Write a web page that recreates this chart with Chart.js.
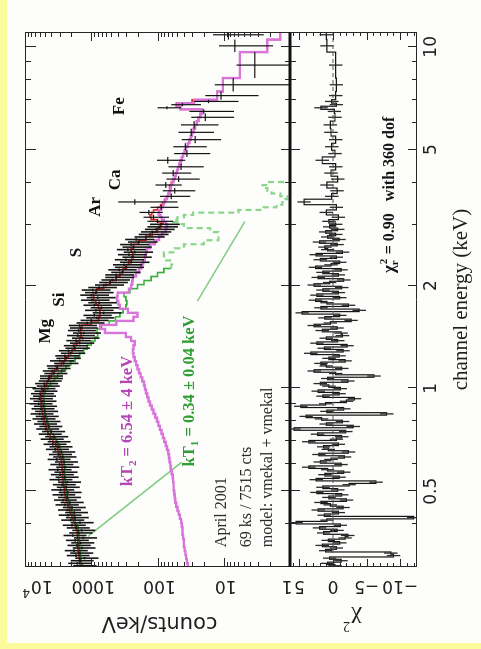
<!DOCTYPE html>
<html>
<head>
<meta charset="utf-8">
<title>X-ray spectrum, two-temperature fit</title>
<script src="https://cdn.jsdelivr.net/npm/chart.js@4.4.1/dist/chart.umd.min.js"></script>
<style>
  html, body { margin:0; padding:0; width:481px; height:649px; overflow:hidden; background:#fbfb9c; }
  /* the figure is laid out landscape and turned a quarter turn */
  #figure { position:absolute; left:0; top:0; width:649px; height:481px; transform-origin:0 0; transform:translate(0px,649px) rotate(-90deg); }
  #paper { position:absolute; left:6px; top:7px; width:643px; height:474px; background:#fdfdfb; }
  #figure canvas { position:absolute; left:0; top:0; }
</style>
</head>
<body>
<div id="figure">
  <div id="paper"></div>
  <canvas id="spec" width="649" height="481"></canvas>
  <canvas id="resid" width="649" height="481"></canvas>
</div>
<script>
// grouped data channels (keV boundaries)
const dataEdges = [
  0.300, 0.305, 0.310, 0.316, 0.321, 0.327, 0.332, 0.338, 0.344, 0.350,
  0.356, 0.362, 0.368, 0.374, 0.381, 0.387, 0.394, 0.401, 0.408, 0.415,
  0.422, 0.429, 0.437, 0.444, 0.452, 0.460, 0.467, 0.475, 0.484, 0.492,
  0.500, 0.509, 0.518, 0.527, 0.536, 0.545, 0.554, 0.564, 0.573, 0.583,
  0.593, 0.604, 0.614, 0.625, 0.635, 0.646, 0.657, 0.669, 0.680, 0.692,
  0.704, 0.716, 0.728, 0.741, 0.754, 0.767, 0.780, 0.793, 0.807, 0.821,
  0.835, 0.849, 0.864, 0.879, 0.894, 0.909, 0.925, 0.941, 0.957, 0.973,
  0.990, 1.007, 1.024, 1.042, 1.060, 1.078, 1.096, 1.115, 1.134, 1.154,
  1.173, 1.194, 1.214, 1.235, 1.256, 1.278, 1.300, 1.322, 1.345, 1.368,
  1.391, 1.415, 1.440, 1.464, 1.490, 1.515, 1.541, 1.568, 1.595, 1.622,
  1.650, 1.678, 1.707, 1.737, 1.766, 1.797, 1.828, 1.859, 1.891, 1.924,
  1.957, 1.990, 2.025, 2.059, 2.095, 2.131, 2.167, 2.205, 2.243, 2.281,
  2.320, 2.360, 2.401, 2.442, 2.484, 2.527, 2.570, 2.614, 2.659, 2.705,
  2.752, 2.799, 2.847, 2.896, 2.946, 2.997, 3.048,
  3.12, 3.22, 3.33, 3.45, 3.58, 3.72, 3.86, 4.02, 4.18, 4.36,
  4.55, 4.76, 4.98, 5.22, 5.48, 5.76, 6.06, 6.38, 6.56, 6.70,
  6.84, 7.00, 7.40, 8.10, 9.65, 10.50, 11.20
];

// observed rate per channel (counts/keV)
const observedCounts = [
  1350, 1620, 1480, 1260, 1700, 1500, 1820, 1380, 1650, 1450,
  1750, 1320, 1900, 1550, 1400, 1700, 1950, 1480, 2050, 1750,
  2250, 1800, 2300, 1950, 2500, 2100, 2650, 2300, 2800, 2250,
  2900, 2400, 2750, 2300, 3100, 2500, 2950, 2600, 3200, 2450,
  3000, 2550, 3300, 2700, 3150, 2800, 3500, 3100, 3800, 3300,
  4200, 3600, 4500, 4000, 4900, 4400, 5300, 4700, 5600, 5000,
  6000, 5100, 5800, 5300, 6200, 5400, 6100, 5500, 5900, 5200,
  5600, 4800, 5100, 4500, 4300, 4300, 3700, 3900, 3300, 3400,
  2600, 3000, 2400, 2500, 2050, 2200, 1750, 1850, 1500, 1700,
  1350, 1600, 1300, 1550, 1450, 1500, 1150, 1000, 820, 900,
  650, 850, 700, 900, 760, 980, 800, 1000, 850, 950,
  760, 600, 520, 480, 420, 420, 340, 380, 300, 320,
  250, 300, 230, 270, 220, 280, 230, 250, 190, 210,
  150, 130, 120, 105, 95, 88,
  100, 115, 135, 88, 220, 62, 55, 75, 48, 58,
  44, 70, 36, 38, 27, 31, 28, 19, 20, 72,
  42, 17, 11, 7.2, 3.4, 6.8, 8.5
];

// 1-sigma uncertainty per channel
const observedErrors = [
  520, 610, 560, 480, 640, 570, 690, 520, 630, 550,
  660, 500, 720, 590, 530, 650, 740, 560, 780, 660,
  850, 680, 870, 740, 950, 800, 1000, 870, 1060, 850,
  1100, 910, 1040, 870, 1180, 950, 1120, 990, 1220, 930,
  1140, 970, 1250, 1030, 1200, 1060, 1330, 1180, 1440, 1250,
  1600, 1370, 1710, 1520, 1860, 1670, 2010, 1790, 2130, 1900,
  2280, 1940, 2200, 2010, 2360, 2050, 2320, 2090, 2240, 1980,
  2130, 1820, 1940, 1710, 1630, 1630, 1410, 1480, 1250, 1290,
  1040, 1200, 960, 1000, 820, 880, 700, 740, 600, 680,
  600, 720, 590, 700, 650, 680, 520, 450, 370, 410,
  300, 390, 320, 410, 350, 450, 370, 460, 390, 440,
  350, 280, 240, 220, 195, 195, 160, 175, 140, 150,
  118, 140, 108, 125, 103, 130, 108, 117, 90, 98,
  72, 62, 58, 50, 46, 42,
  42, 48, 52, 40, 170, 30, 28, 32, 25, 27,
  24, 32, 20, 20, 16, 17, 16, 12, 13, 28,
  20, 11, 8, 6.5, 3.0, 5, 6
];

// (data - model) / sigma per channel
const chiResiduals = [
  -0.3, 0.8, -1.2, 0.5, -9.0, -8.6, 1.1, -0.5, 1.6, -1.0,
  0.7, -1.8, -2.2, 1.4, -0.6, 2.0, -1.1, 5.5, 0.9, -12.0,
  1.3, -0.8, 2.2, -1.5, 0.4, 1.8, -2.0, 0.6, -1.3, 2.4,
  -0.7, 1.5, -2.4, -6.4, 2.5, -0.9, 1.2, -1.6, 0.8, 3.6,
  -1.2, 1.9, 0.3, -1.7, 2.1, -2.3, 0.7, 1.4, -0.8, 3.6,
  -0.5, -1.3, 2.3, -1.9, 5.8, -3.0, 1.0, -1.4, 1.7, 4.0,
  -8.0, 0.9, -1.6, 4.8, 1.1, -2.0, -3.2, 1.5, -0.9, 2.2,
  -1.1, 0.6, 1.9, -2.2, 0.8, -6.1, -0.4, 2.8, -1.3, 1.0,
  1.8, -1.8, 0.6, -0.9, 3.3, -1.5, 1.3, -2.1, 2.4, -0.7,
  1.0, -1.4, -1.2, 1.6, -0.6, 2.8, 0.4, -2.7, 1.2, -1.0,
  4.6, -3.9, 1.8, -2.3, 0.9, 2.6, -1.0, 2.4, -0.8, 1.5,
  -1.3, 2.8, 0.5, -1.6, 2.2, -0.8, 1.5, -1.2, 2.6, 0.3,
  -1.0, 1.9, -0.5, 2.5, -1.4, 0.8, 1.2, -0.6, 2.0, -0.9,
  0.8, -0.4, 1.1, -0.7, 0.5, -0.4,
  0.6, -0.8, 1.0, -0.5, 4.3, 0.2, -0.6, 0.9, -0.7, 0.3,
  -0.4, 1.6, -0.3, 0.2, -0.4, 0.3, 0.4, -0.3, -0.2, 1.8,
  -0.5, 0.2, -0.4, -0.5, -0.4, 0.9, 1.0
];

// model grid (keV boundaries)
const modelEdges = [
  0.300, 0.308, 0.317, 0.325, 0.334, 0.343, 0.353, 0.362, 0.372, 0.383,
  0.393, 0.404, 0.415, 0.427, 0.438, 0.450, 0.463, 0.476, 0.489, 0.502,
  0.516, 0.531, 0.545, 0.560, 0.576, 0.592, 0.608, 0.625, 0.642, 0.660,
  0.678, 0.697, 0.716, 0.736, 0.756, 0.777, 0.799, 0.821, 0.843, 0.867,
  0.891, 0.915, 0.941, 0.967, 0.993, 1.020,
  1.048, 1.077, 1.107, 1.137, 1.169, 1.201, 1.234, 1.268, 1.303, 1.339,
  1.376, 1.414, 1.453, 1.493, 1.534, 1.576, 1.620, 1.664, 1.710, 1.757,
  1.806, 1.855, 1.907, 1.959, 2.013, 2.069, 2.126, 2.184, 2.244, 2.306,
  2.370, 2.435, 2.502, 2.571, 2.642, 2.715, 2.790, 2.867, 2.946, 3.027,
  3.07, 3.12, 3.17, 3.22, 3.27, 3.33, 3.39, 3.45, 3.51, 3.58,
  3.65, 3.72, 3.79, 3.86, 3.94, 4.02, 4.10, 4.18, 4.27, 4.36,
  4.45, 4.55, 4.65, 4.76, 4.87, 4.98, 5.10, 5.22, 5.35, 5.48,
  5.62, 5.76, 5.91, 6.06, 6.22, 6.38, 6.56, 6.70, 6.84, 7.00,
  7.40, 8.10, 9.65, 10.50, 11.20
];

// folded model: vmekal + vmekal
const totalModel = [
  1480, 1500, 1520, 1550, 1580, 1590, 1600, 1610, 1630, 1650,
  1750, 1850, 1950, 2080, 2150, 2250, 2350, 2470, 2520, 2560,
  2620, 2670, 2700, 2720, 2750, 2770, 2820, 2950, 3100, 3250,
  3450, 3800, 4150, 4500, 4750, 4950, 5150, 5350, 5500, 5600,
  5700, 5750, 5800, 5500, 5100,
  4700, 4400, 4000, 3600, 3200, 2800, 2500, 2200, 1950, 1780,
  1650, 1500, 1420, 1450, 1380, 1000, 770, 740, 740, 780,
  850, 920, 930, 830, 650, 520, 420, 370, 330, 295,
  270, 245, 235, 250, 230, 195, 150, 120, 100, 90,
  82, 100, 125, 130, 122, 115, 100, 90, 84, 78,
  73, 69, 66, 64, 66, 62, 58, 55, 53, 51,
  49, 47, 45, 43, 41, 39, 37, 35, 33, 31.5,
  30, 28.5, 27, 25.5, 24, 22.5, 21, 45, 52, 30,
  12.6, 10.3, 5.7, 2.2, 1.4
];

// cool component, kT1 = 0.34 keV
const softModel = [
  1400, 1420, 1440, 1470, 1500, 1510, 1520, 1530, 1550, 1570,
  1650, 1740, 1830, 1950, 2020, 2110, 2200, 2300, 2350, 2390,
  2440, 2480, 2510, 2530, 2550, 2570, 2600, 2700, 2830, 2960,
  3130, 3430, 3750, 4080, 4300, 4480, 4660, 4840, 4970, 5050,
  5130, 5160, 5180, 4900, 4500,
  4100, 3600, 3200, 2800, 2400, 2050, 1750, 1500, 1300, 1150,
  1000, 880, 800, 820, 700, 540, 430, 370, 330, 300,
  290, 300, 320, 260, 200, 160, 125, 100, 80, 62,
  60, 75, 80, 55, 40, 20, 12, 12, 16, 40,
  50, 58, 50, 40, 29, 6, 2.5, 1.6, 1.3, 1.2,
  1.1, 1.4, 1.9, 2.2, 2.6, 2.3, 1.1, null, null, null,
  null, null, null, null, null, null, null, null, null, null,
  null, null, null, null, null, null, null, null, null, null,
  null, null, null, null, null
];

// hot component, kT2 = 6.54 keV
const hardModel = [
  35, 36, 37, 38, 39, 40, 40, 41, 42, 42,
  43, 44, 46, 48, 50, 52, 54, 55, 56, 57,
  57, 58, 59, 61, 63, 64, 66, 67, 69, 72,
  75, 79, 83, 87, 92, 97, 102, 108, 115, 122,
  130, 137, 143, 149, 155,
  160, 170, 180, 190, 200, 210, 220, 230, 235, 230,
  220, 250, 300, 620, 740, 420, 230, 200, 280, 370,
  390, 410, 400, 270, 250, 240, 235, 210, 190, 175,
  165, 155, 150, 145, 130, 110, 95, 85, 75, 72,
  74, 80, 86, 90, 96, 94, 88, 84, 80, 76,
  72, 69, 66, 64, 63, 60, 57, 55, 53, 51,
  49, 47, 45, 43, 41, 39, 37, 35, 33, 31.5,
  30, 28.5, 27, 25.5, 24, 22.5, 21, 45, 50, 28,
  12.6, 10.3, 5.7, 2.2, 1.4
];

// axis ticks and labels
const energyMajor = [0.5, 1, 2, 5, 10];
const energyMajorLabels = ['0.5', '1', '2', '5', '10'];
const energyMinor = [0.3, 0.4, 0.6, 0.7, 0.8, 0.9, 3, 4, 6, 7, 8, 9];
const countDecades = [1, 10, 100, 1000, 10000];
const countLabels = ['1', '10', '100', '1000', '10'];
const chiMajor = [5, 0, -5, -10];
const chiLabels = ['5', '0', '\u22125', '\u221210'];

// emission-line identifications (label, energy keV, counts/keV)
const lineIds = [
  ['Mg', 1.47, 4820], ['Si', 1.82, 2960], ['S', 2.50, 1640],
  ['Ar', 3.40, 848], ['Ca', 4.08, 423], ['Fe', 6.70, 370]
];

// pointer strokes from the kT1 caption to the cool component
const pointerA = [[0.608, 43], [0.369, 1120]];
const pointerB = [[3.08, 4.8], [1.80, 25]];

// ---------------------------------------------------------------------------
const E_MIN = 0.3, E_MAX = 11.05;
const SERIF = '"Liberation Serif", "Times New Roman", serif';
const SANS = '"DejaVu Sans", sans-serif';
const DENSE_CHANNELS = 136;   // channels below ~3 keV, drawn a little heavier

function stepPoints(edges, values) {
  const pts = values.map((v, i) => ({ x: edges[i], y: v }));
  pts.push({ x: edges[values.length], y: values[values.length - 1] });
  return pts;
}

function errorCrossPoints() {
  const pts = [];
  observedCounts.forEach((c, i) => {
    const lo = dataEdges[i], hi = dataEdges[i + 1];
    const mid = Math.sqrt(lo * hi);
    const e = observedErrors[i];
    pts.push({ x: lo, y: c }, { x: hi, y: c }, { x: hi, y: null });
    pts.push({ x: mid, y: Math.max(c - e, 0.3) }, { x: mid, y: c + e }, { x: mid, y: null });
  });
  return pts;
}

function residualBarPoints() {
  const pts = [];
  chiResiduals.forEach((r, i) => {
    const mid = Math.sqrt(dataEdges[i] * dataEdges[i + 1]);
    pts.push({ x: mid, y: r - 1 }, { x: mid, y: r + 1 }, { x: mid, y: null });
  });
  return pts;
}

function vText(ctx, txt, x, y) {
  ctx.save();
  ctx.translate(x, y);
  ctx.rotate(-Math.PI / 2);
  ctx.fillText(txt, 0, 0);
  ctx.restore();
}

function line(ctx, x1, y1, x2, y2) {
  ctx.beginPath(); ctx.moveTo(x1, y1); ctx.lineTo(x2, y2); ctx.stroke();
}

function energyTicks(ctx, xs, yTop, yBot, downLen, upLen) {
  energyMajor.forEach(e => {
    const px = Math.round(xs.getPixelForValue(e)) + 0.5;
    if (downLen) line(ctx, px, yTop, px, yTop + downLen);
    if (upLen) line(ctx, px, yBot, px, yBot - upLen);
  });
  energyMinor.forEach(e => {
    const px = Math.round(xs.getPixelForValue(e)) + 0.5;
    if (downLen) line(ctx, px, yTop, px, yTop + downLen * 0.55);
    if (upLen) line(ctx, px, yBot, px, yBot - upLen * 0.55);
  });
}

// subscripted "kT" caption
function kTCaption(ctx, sub, rest, x, y, size) {
  ctx.font = 'bold ' + size + 'px ' + SERIF;
  ctx.textAlign = 'left';
  ctx.textBaseline = 'middle';
  ctx.fillText('kT', x, y);
  let w = ctx.measureText('kT').width;
  ctx.font = 'bold ' + Math.round(size * 0.68) + 'px ' + SERIF;
  ctx.fillText(sub, x + w, y + size * 0.3);
  w += ctx.measureText(sub).width;
  ctx.font = 'bold ' + size + 'px ' + SERIF;
  ctx.fillText(rest, x + w, y);
}

const specDecor = {
  id: 'specDecor',
  afterDraw(chart) {
    const { ctx, chartArea: a, scales: { x: xs, y: ys } } = chart;
    ctx.save();
    ctx.strokeStyle = '#262626';
    ctx.lineWidth = 1;
    // frame
    line(ctx, a.left, a.top + 0.5, a.right, a.top + 0.5);
    line(ctx, a.left + 0.5, a.top, a.left + 0.5, a.bottom);
    line(ctx, a.right - 0.5, a.top, a.right - 0.5, a.bottom);
    // energy ticks on both long edges
    energyTicks(ctx, xs, a.top, a.bottom, 11, 9);
    // count ticks on both short edges
    countDecades.forEach(d => {
      const py = Math.round(ys.getPixelForValue(d)) + 0.5;
      line(ctx, a.left, py, a.left + 9, py);
      line(ctx, a.right, py, a.right - 9, py);
      if (d < 10000) {
        for (let k = 2; k <= 9; k++) {
          const q = Math.round(ys.getPixelForValue(d * k)) + 0.5;
          line(ctx, a.left, q, a.left + 5, q);
          line(ctx, a.right, q, a.right - 5, q);
        }
      }
    });
    // thick boundary shared with the residual panel
    ctx.lineWidth = 3;
    ctx.strokeStyle = '#111';
    line(ctx, a.left, a.bottom, a.right, a.bottom);

    // count labels, set vertically
    ctx.fillStyle = '#1e1e1e';
    ctx.font = '17px ' + SANS;
    ctx.textAlign = 'center';
    ctx.textBaseline = 'middle';
    countDecades.forEach((d, i) => {
      const py = ys.getPixelForValue(d);
      if (d === 10000) {
        ctx.save();
        ctx.translate(a.left - 18, py + 8);
        ctx.rotate(-Math.PI / 2);
        ctx.textAlign = 'right';
        ctx.fillText(countLabels[i], 2, 0);
        ctx.font = '12px ' + SANS;
        ctx.textAlign = 'left';
        ctx.fillText('4', 3, -7);
        ctx.restore();
      } else if (d === 1) {
        vText(ctx, countLabels[i], a.left - 18, py - 3);
      } else {
        vText(ctx, countLabels[i], a.left - 18, py + 2);
      }
    });
    ctx.font = '21px ' + SANS;
    vText(ctx, 'counts/keV', 27, (a.top + a.bottom) / 2 + 2);

    // line identifications
    ctx.font = 'bold 17px ' + SERIF;
    ctx.fillStyle = '#111';
    lineIds.forEach(([t, e, c]) => {
      ctx.fillText(t, xs.getPixelForValue(e), ys.getPixelForValue(c));
    });

    // component captions
    ctx.fillStyle = '#b645b8';
    kTCaption(ctx, '2', ' = 6.54 \u00b1 4 keV', xs.getPixelForValue(0.517), ys.getPixelForValue(279), 16.5);
    ctx.fillStyle = '#2f9e33';
    kTCaption(ctx, '1', ' = 0.34 \u00b1 0.04 keV', xs.getPixelForValue(0.591), ys.getPixelForValue(32.3), 16.5);

    // observation notes
    ctx.fillStyle = '#2a2a2a';
    ctx.font = '16px ' + SERIF;
    ctx.textAlign = 'left';
    ctx.textBaseline = 'middle';
    const nx = xs.getPixelForValue(0.343);
    ctx.fillText('April 2001', nx, ys.getPixelForValue(10.6));
    ctx.fillText('69 ks / 7515 cts', nx, ys.getPixelForValue(4.46));
    ctx.fillText('model: vmekal + vmekal', nx, ys.getPixelForValue(2.15));
    ctx.restore();
  }
};

const residDecor = {
  id: 'residDecor',
  afterDraw(chart) {
    const { ctx, chartArea: a, scales: { x: xs, y: ys } } = chart;
    ctx.save();
    ctx.strokeStyle = '#262626';
    ctx.lineWidth = 1;
    line(ctx, a.left, a.bottom - 0.5, a.right, a.bottom - 0.5);
    line(ctx, a.left + 0.5, a.top, a.left + 0.5, a.bottom);
    line(ctx, a.right - 0.5, a.top, a.right - 0.5, a.bottom);
    energyTicks(ctx, xs, a.top + 1, a.bottom, 9, 9);
    for (let v = -12; v <= 6; v++) {
      const py = Math.round(ys.getPixelForValue(v)) + 0.5;
      const len = v % 5 === 0 ? 8 : 4;
      line(ctx, a.left, py, a.left + len, py);
      line(ctx, a.right, py, a.right - len, py);
    }
    ctx.fillStyle = '#1e1e1e';
    ctx.font = '17px ' + SANS;
    ctx.textAlign = 'center';
    ctx.textBaseline = 'middle';
    chiMajor.forEach((v, i) => vText(ctx, chiLabels[i], a.left - 18, ys.getPixelForValue(v)));
    energyMajor.forEach((e, i) => ctx.fillText(energyMajorLabels[i], xs.getPixelForValue(e), a.bottom + 15));

    ctx.font = '21px ' + SERIF;
    ctx.fillText('channel energy (keV)', (a.left + a.right) / 2, 461);

    // residual axis title
    ctx.save();
    ctx.translate(31, (a.top + a.bottom) / 2);
    ctx.rotate(-Math.PI / 2);
    ctx.font = '24px ' + SERIF;
    ctx.fillText('\u03c7', -3, 0);
    ctx.font = '14px ' + SERIF;
    ctx.fillText('2', 7, -8);
    ctx.restore();

    // goodness of fit
    ctx.fillStyle = '#151515';
    ctx.textAlign = 'left';
    let gx = 376;
    const gy = 390;
    ctx.font = 'bold 17px ' + SERIF;
    ctx.fillText('\u03c7', gx, gy);
    gx += ctx.measureText('\u03c7').width;
    ctx.font = 'bold 11px ' + SERIF;
    ctx.fillText('r', gx, gy + 5);
    ctx.fillText('2', gx + 1, gy - 6);
    gx += ctx.measureText('r').width + 2;
    ctx.font = 'bold 16px ' + SERIF;
    ctx.fillText(' = 0.90   with 360 dof', gx, gy);
    ctx.restore();
  }
};

const logEnergy = { type: 'logarithmic', min: E_MIN, max: E_MAX, display: false };
const common = {
  responsive: false,
  animation: false,
  devicePixelRatio: 1,
  events: [],
  plugins: { legend: { display: false }, tooltip: { enabled: false } },
  elements: { point: { radius: 0 }, line: { tension: 0, fill: false } }
};

new Chart(document.getElementById('spec'), {
  type: 'line',
  data: {
    datasets: [
      { data: errorCrossPoints(), borderColor: '#141414', borderWidth: 1.2, spanGaps: false,
        segment: { borderWidth: c => (c.p0DataIndex < DENSE_CHANNELS * 6 ? 1.6 : undefined) } },
      { data: stepPoints(modelEdges, hardModel), stepped: true, borderColor: '#d874da', borderWidth: 2.4 },
      { data: stepPoints(modelEdges, softModel), stepped: true, borderColor: '#3aae3a', borderWidth: 1.6,
        segment: {
          borderDash: c => (c.p0DataIndex >= 74 ? [6, 4] : undefined),
          borderColor: c => (c.p0DataIndex >= 74 ? '#8bd58b' : undefined),
          borderWidth: c => (c.p0DataIndex >= 74 ? 2.2 : undefined)
        } },
      { data: stepPoints(modelEdges, totalModel), stepped: true, borderColor: '#e3261f', borderWidth: 1.6 },
      { data: pointerA.map(([x, y]) => ({ x, y })), borderColor: '#80cc80', borderWidth: 1.6 },
      { data: pointerB.map(([x, y]) => ({ x, y })), borderColor: '#80cc80', borderWidth: 1.6 }
    ]
  },
  options: Object.assign({}, common, {
    layout: { padding: { left: 82, right: 32, top: 25, bottom: 191 } },
    scales: { x: logEnergy, y: { type: 'logarithmic', min: 1, max: 10000, display: false } }
  }),
  plugins: [specDecor]
});

new Chart(document.getElementById('resid'), {
  type: 'line',
  data: {
    datasets: [
      { data: [{ x: E_MIN, y: 0 }, { x: E_MAX, y: 0 }], borderColor: '#555', borderWidth: 1, borderDash: [4, 3] },
      { data: residualBarPoints(), borderColor: '#2a2a2a', borderWidth: 1.3, spanGaps: false },
      { data: stepPoints(dataEdges, chiResiduals), stepped: true, borderColor: '#151515', borderWidth: 1.2 }
    ]
  },
  options: Object.assign({}, common, {
    layout: { padding: { left: 82, right: 32, top: 290, bottom: 64 } },
    scales: { x: Object.assign({}, logEnergy), y: { type: 'linear', min: -12.5, max: 6.4, display: false } }
  }),
  plugins: [residDecor]
});
</script>
</body>
</html>
